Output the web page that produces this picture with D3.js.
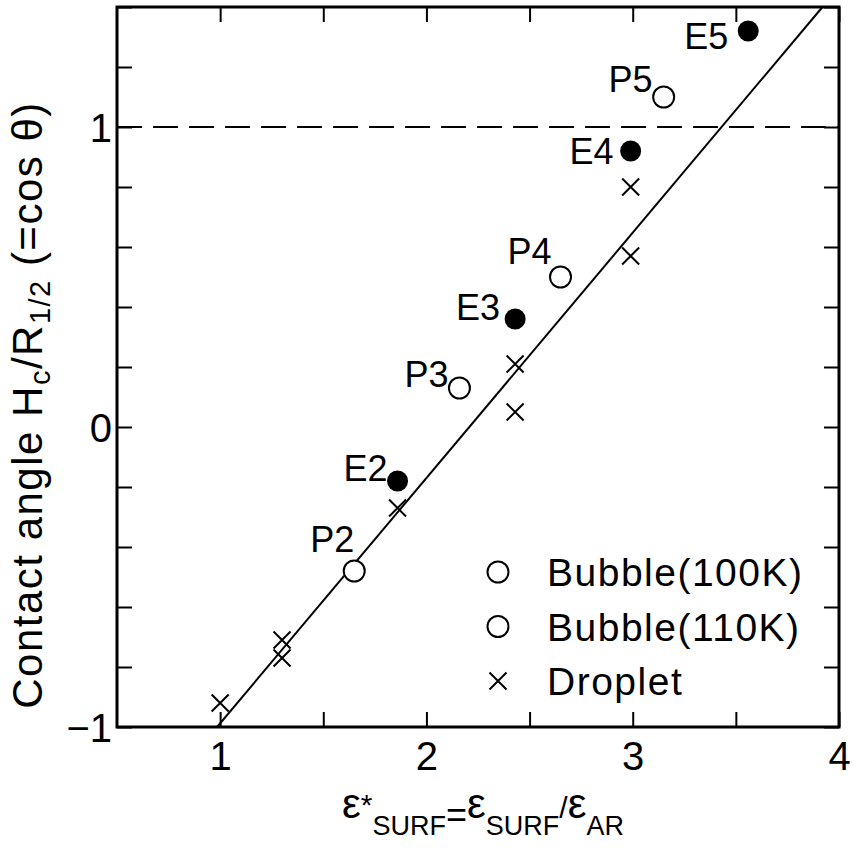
<!DOCTYPE html>
<html>
<head>
<meta charset="utf-8">
<script src="https://cdn.jsdelivr.net/npm/d3@7"></script>
<style>
  body { margin: 0; background: #fff; }
  svg text { font-family: "Liberation Sans", Arial, sans-serif; fill: #000; }
</style>
</head>
<body>
<div id="chart"></div>
<script>
// Bubble points (filled = E series, open = P series)
var eLabels = ["E2", "E3", "E4", "E5"];
var eX = [1.86, 2.43, 2.99, 3.56];
var eY = [-0.18, 0.36, 0.92, 1.32];

var pLabels = ["P2", "P3", "P4", "P5"];
var pX = [1.65, 2.16, 2.65, 3.15];
var pY = [-0.48, 0.13, 0.50, 1.10];

// Droplet points
var dX = [1.0, 1.3, 1.3, 1.86, 2.43, 2.43, 2.99, 2.99];
var dY = [-0.92, -0.71, -0.77, -0.27, 0.21, 0.05, 0.80, 0.57];

// Linear fit line, end points
var fitX = [0.985, 3.92];
var fitY = [-1.0, 1.4];

var legendNames = ["Bubble(100K)", "Bubble(110K)", "Droplet"];
var legendShapes = ["open", "open", "cross"];

var xTicks = [1, 1.5, 2, 2.5, 3, 3.5, 4];
var yTicks = [-1, -0.8, -0.6, -0.4, -0.2, 0, 0.2, 0.4, 0.6, 0.8, 1, 1.2, 1.4];

// Layout
var width = 854, height = 849;
var margin = {left: 117, top: 7, right: 15, bottom: 122};
var w = width - margin.left - margin.right;
var h = height - margin.top - margin.bottom;

// label offsets (dx from point to text end, dy to text centre)
var eOffsets = [[-10, -13], [-15, -12], [-17, 0], [-20, 5]];
var pOffsets = [[0, -32], [-11, -14], [-9, -26], [-11, -18]];

var svg = d3.select("#chart").append("svg")
    .attr("width", width)
    .attr("height", height);

var g = svg.append("g")
    .attr("transform", "translate(" + margin.left + "," + margin.top + ")");

var x = d3.scaleLinear().domain([0.5, 4]).range([0, w]);
var y = d3.scaleLinear().domain([-1, 1.4]).range([h, 0]);

var fmt = function(d) {
    return Number.isInteger(d) ? d3.format("d")(d).replace("-", "\u2212") : "";
};

// axes, ticks pointing inward
var xb = g.append("g").attr("transform", "translate(0," + h + ")")
    .call(d3.axisBottom(x).tickValues(xTicks).tickSize(-15).tickPadding(15).tickFormat(fmt));
var xt = g.append("g")
    .call(d3.axisTop(x).tickValues(xTicks).tickSize(-15).tickFormat(""));
var yl = g.append("g")
    .call(d3.axisLeft(y).tickValues(yTicks).tickSize(-15).tickPadding(5).tickFormat(fmt));
var yr = g.append("g").attr("transform", "translate(" + w + ",0)")
    .call(d3.axisRight(y).tickValues(yTicks).tickSize(-15).tickFormat(""));

[xb, xt, yl, yr].forEach(function(a) {
    a.select(".domain").remove();
    a.selectAll(".tick line").attr("stroke", "#000").attr("stroke-width", 2);
    a.selectAll(".tick text").style("font-size", "40px").attr("fill", "#000");
});
yl.selectAll(".tick text").attr("dy", "0.36em");

// frame
g.append("rect")
    .attr("width", w).attr("height", h)
    .attr("fill", "none").attr("stroke", "#000").attr("stroke-width", 3);

// dashed cos = 1 line
g.append("line")
    .attr("x1", 0).attr("x2", w)
    .attr("y1", y(1)).attr("y2", y(1))
    .attr("stroke", "#000").attr("stroke-width", 2)
    .attr("stroke-dasharray", "25,11");

// fit line
var line = d3.line().x(function(d) { return x(d[0]); }).y(function(d) { return y(d[1]); });
g.append("path")
    .datum(d3.zip(fitX, fitY))
    .attr("d", line)
    .attr("fill", "none").attr("stroke", "#000").attr("stroke-width", 2);

function cross(sel, cx, cy, s) {
    var p = d3.path();
    p.moveTo(cx - s, cy - s); p.lineTo(cx + s, cy + s);
    p.moveTo(cx - s, cy + s); p.lineTo(cx + s, cy - s);
    sel.append("path").attr("d", p.toString())
        .attr("stroke", "#000").attr("stroke-width", 2).attr("fill", "none");
}

// droplets
var dg = g.append("g");
d3.zip(dX, dY).forEach(function(d) { cross(dg, x(d[0]), y(d[1]), 8.5); });

// open bubbles
g.selectAll("circle.p").data(d3.zip(pX, pY)).enter().append("circle")
    .attr("class", "p")
    .attr("cx", function(d) { return x(d[0]); })
    .attr("cy", function(d) { return y(d[1]); })
    .attr("r", 10.5)
    .attr("fill", "#fff").attr("stroke", "#000").attr("stroke-width", 2);

// filled bubbles
g.selectAll("circle.e").data(d3.zip(eX, eY)).enter().append("circle")
    .attr("class", "e")
    .attr("cx", function(d) { return x(d[0]); })
    .attr("cy", function(d) { return y(d[1]); })
    .attr("r", 10.5)
    .attr("fill", "#000");

// point labels
function labels(names, xs, ys, offs) {
    names.forEach(function(n, i) {
        g.append("text")
            .attr("x", x(xs[i]) + offs[i][0])
            .attr("y", y(ys[i]) + offs[i][1])
            .attr("dy", "0.36em")
            .attr("text-anchor", "end")
            .style("font-size", "36px")
            .text(n);
    });
}
labels(eLabels, eX, eY, eOffsets);
labels(pLabels, pX, pY, pOffsets);

// legend
var lg = svg.append("g").attr("transform", "translate(498,572)");
legendNames.forEach(function(n, i) {
    var ly = i * 54.5;
    if (legendShapes[i] === "open") {
        lg.append("circle").attr("cx", 0).attr("cy", ly).attr("r", 10.5)
            .attr("fill", "#fff").attr("stroke", "#000").attr("stroke-width", 2);
    } else {
        cross(lg, 0, ly, 8.5);
    }
    lg.append("text").attr("x", 49).attr("y", ly).attr("dy", "0.36em")
        .style("font-size", "39px").style("letter-spacing", "1.5px").text(n);
});

// axis titles
var xt2 = svg.append("text")
    .attr("x", 483).attr("y", 818)
    .attr("text-anchor", "middle")
    .style("font-size", "42px");
xt2.append("tspan").text("\u03b5");
xt2.append("tspan").attr("dy", -3).style("font-size", "30px").text("*");
xt2.append("tspan").attr("dy", 20).style("font-size", "27px").text("SURF");
xt2.append("tspan").attr("dy", -8).style("font-size", "36px").text("=");
xt2.append("tspan").attr("dy", -9).text("\u03b5");
xt2.append("tspan").attr("dy", 17).style("font-size", "27px").text("SURF");
xt2.append("tspan").attr("dy", -17).style("font-size", "30px").text("/");
xt2.append("tspan").text("\u03b5");
xt2.append("tspan").attr("dy", 17).style("font-size", "27px").text("AR");

var yt = svg.append("text")
    .attr("transform", "translate(42," + 405 + ") rotate(-90)")
    .attr("text-anchor", "middle")
    .style("font-size", "42px")
    .style("letter-spacing", "1.5px");
yt.append("tspan").text("Contact angle H");
yt.append("tspan").attr("dy", 8).style("font-size", "29px").text("c");
yt.append("tspan").attr("dy", -8).text("/R");
yt.append("tspan").attr("dy", 8).style("font-size", "29px").text("1/2");
yt.append("tspan").attr("dy", -8).text(" (=cos \u03b8)");
</script>
</body>
</html>
